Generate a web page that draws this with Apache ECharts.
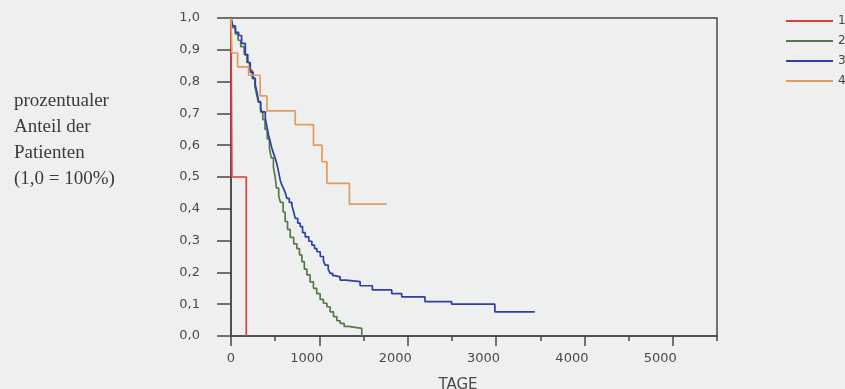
<!DOCTYPE html>
<html>
<head>
<meta charset="utf-8">
<script src="https://cdn.jsdelivr.net/npm/echarts@6/dist/echarts.min.js"></script>
<style>html,body{margin:0;padding:0;background:#eef0ef;}#c{width:845px;height:389px;}</style>
</head>
<body>
<div id="c"></div>
<script>
// ---- data ----
const seriesNames = ['1', '2', '3', '4'];
const s1Days = [0, 10, 173];
const s1Surv = [1, 0.5, 0];
const s2Days = [0, 20, 50, 80, 110, 150, 180, 210, 240, 270, 290, 310, 335, 360, 385, 410, 435, 455, 480, 500, 515, 540, 560, 590, 613, 640, 670, 710, 745, 775, 802, 830, 859, 895, 933, 970, 1009, 1046, 1085, 1122, 1160, 1198, 1235, 1280, 1329, 1480];
const s2Surv = [1, 0.97, 0.95, 0.93, 0.91, 0.885, 0.86, 0.835, 0.81, 0.785, 0.76, 0.735, 0.705, 0.68, 0.65, 0.62, 0.59, 0.56, 0.53, 0.5, 0.465, 0.44, 0.42, 0.39, 0.36, 0.335, 0.31, 0.29, 0.275, 0.255, 0.234, 0.21, 0.192, 0.17, 0.15, 0.133, 0.115, 0.103, 0.092, 0.076, 0.061, 0.048, 0.04, 0.03, 0.024, 0];
const s3Days = [0, 20, 50, 86, 120, 162, 190, 218, 250, 275, 295, 312, 335, 350, 388, 405, 425, 445, 463, 480, 500, 520, 538, 557, 575, 594, 615, 632, 660, 689, 710, 727, 755, 783, 810, 840, 880, 915, 945, 972, 1010, 1046, 1066, 1100, 1122, 1150, 1178, 1235, 1300, 1461, 1600, 1819, 1932, 2195, 2497, 2986, 3438];
const s3Surv = [1, 0.975, 0.955, 0.945, 0.92, 0.885, 0.86, 0.83, 0.81, 0.79, 0.765, 0.737, 0.715, 0.705, 0.685, 0.66, 0.632, 0.61, 0.59, 0.575, 0.56, 0.54, 0.517, 0.49, 0.475, 0.464, 0.45, 0.433, 0.42, 0.41, 0.39, 0.37, 0.355, 0.344, 0.325, 0.312, 0.298, 0.286, 0.275, 0.265, 0.25, 0.236, 0.223, 0.21, 0.197, 0.19, 0.186, 0.176, 0.171, 0.158, 0.145, 0.133, 0.123, 0.108, 0.1, 0.076, 0.076];
const s4Days = [0, 10, 75, 200, 330, 407, 727, 933, 1030, 1085, 1340, 1763];
const s4Surv = [1, 0.89, 0.846, 0.82, 0.755, 0.708, 0.665, 0.6, 0.548, 0.48, 0.415, 0.415];
const xTickLabels = [0, 1000, 2000, 3000, 4000, 5000];
const xMinorTicks = [500, 1500, 2500, 3500, 4500, 5500];
const yTicks = [0, 0.1, 0.2, 0.3, 0.4, 0.5, 0.6, 0.7, 0.8, 0.9, 1.0];
const xAxisName = 'TAGE';
const yAxisText = 'prozentualer\nAnteil der\nPatienten\n(1,0 = 100%)';

// ---- chart ----
const colors = ['#dc3c3c', '#557a45', '#2e3fa8', '#e39a5c'];
const axisCol = '#4a4545';
const dayArrs = [s1Days, s2Days, s3Days, s4Days];
const survArrs = [s1Surv, s2Surv, s3Surv, s4Surv];
const chart = echarts.init(document.getElementById('c'), null, {renderer: 'canvas'});
const series = seriesNames.map((n, i) => ({
  name: n,
  type: 'line',
  step: 'end',
  showSymbol: false,
  symbol: 'none',
  xAxisIndex: 0,
  yAxisIndex: 0,
  data: dayArrs[i].map((d, j) => [d, survArrs[i][j]]),
  lineStyle: {width: 1.7, color: colors[i]},
  itemStyle: {color: colors[i]},
  animation: false
}));
chart.setOption({
  backgroundColor: '#eef0ef',
  animation: false,
  title: [
    {text: yAxisText, left: 9, top: 83,
     textStyle: {fontFamily: 'Liberation Serif', fontSize: 19, fontWeight: 'normal', color: '#3a3a3a', lineHeight: 26}},
    {text: xAxisName, left: 453, top: 373, textAlign: 'center',
     textStyle: {fontFamily: 'DejaVu Sans', fontSize: 15, fontWeight: 'normal', color: '#4a4a4a'}}
  ],
  legend: {
    orient: 'vertical', left: 786, top: 14, padding: 0,
    icon: 'rect', itemWidth: 47, itemHeight: 2, itemGap: 6,
    textStyle: {fontFamily: 'DejaVu Sans', fontSize: 12, color: '#444', lineHeight: 14},
    data: seriesNames
  },
  grid: {left: 231, right: 128, top: 18, bottom: 53, show: true, borderColor: axisCol, borderWidth: 1.5, backgroundColor: 'transparent'},
  xAxis: [
    {type: 'value', min: 0, max: 5500, position: 'bottom',
     axisLine: {show: true, onZero: false, lineStyle: {color: axisCol, width: 1.5}},
     axisTick: {show: true, customValues: xTickLabels, length: 10, lineStyle: {color: axisCol, width: 1.5}},
     axisLabel: {customValues: xTickLabels, margin: 16, align: 'right', padding: [0, -4, 0, 0],
                 fontFamily: 'DejaVu Sans', fontSize: 13, color: '#4a4a4a',
                 formatter: v => String(v)},
     splitLine: {show: false}},
    {type: 'value', min: 0, max: 5500, position: 'bottom',
     axisLine: {show: false},
     axisTick: {show: true, customValues: xMinorTicks, length: 5, lineStyle: {color: axisCol, width: 1.5}},
     axisLabel: {show: false},
     splitLine: {show: false}}
  ],
  yAxis: [
    {type: 'value', min: 0, max: 1, interval: 0.1,
     axisLine: {show: true, onZero: false, lineStyle: {color: axisCol, width: 1.5}},
     axisTick: {show: true, length: 14, lineStyle: {color: axisCol, width: 1.5}},
     axisLabel: {margin: 31, fontFamily: 'DejaVu Sans', fontSize: 13, color: '#4a4a4a',
                 formatter: v => v.toFixed(1).replace('.', ',')},
     splitLine: {show: false}}
  ],
  series: series
});
</script>
</body>
</html>
